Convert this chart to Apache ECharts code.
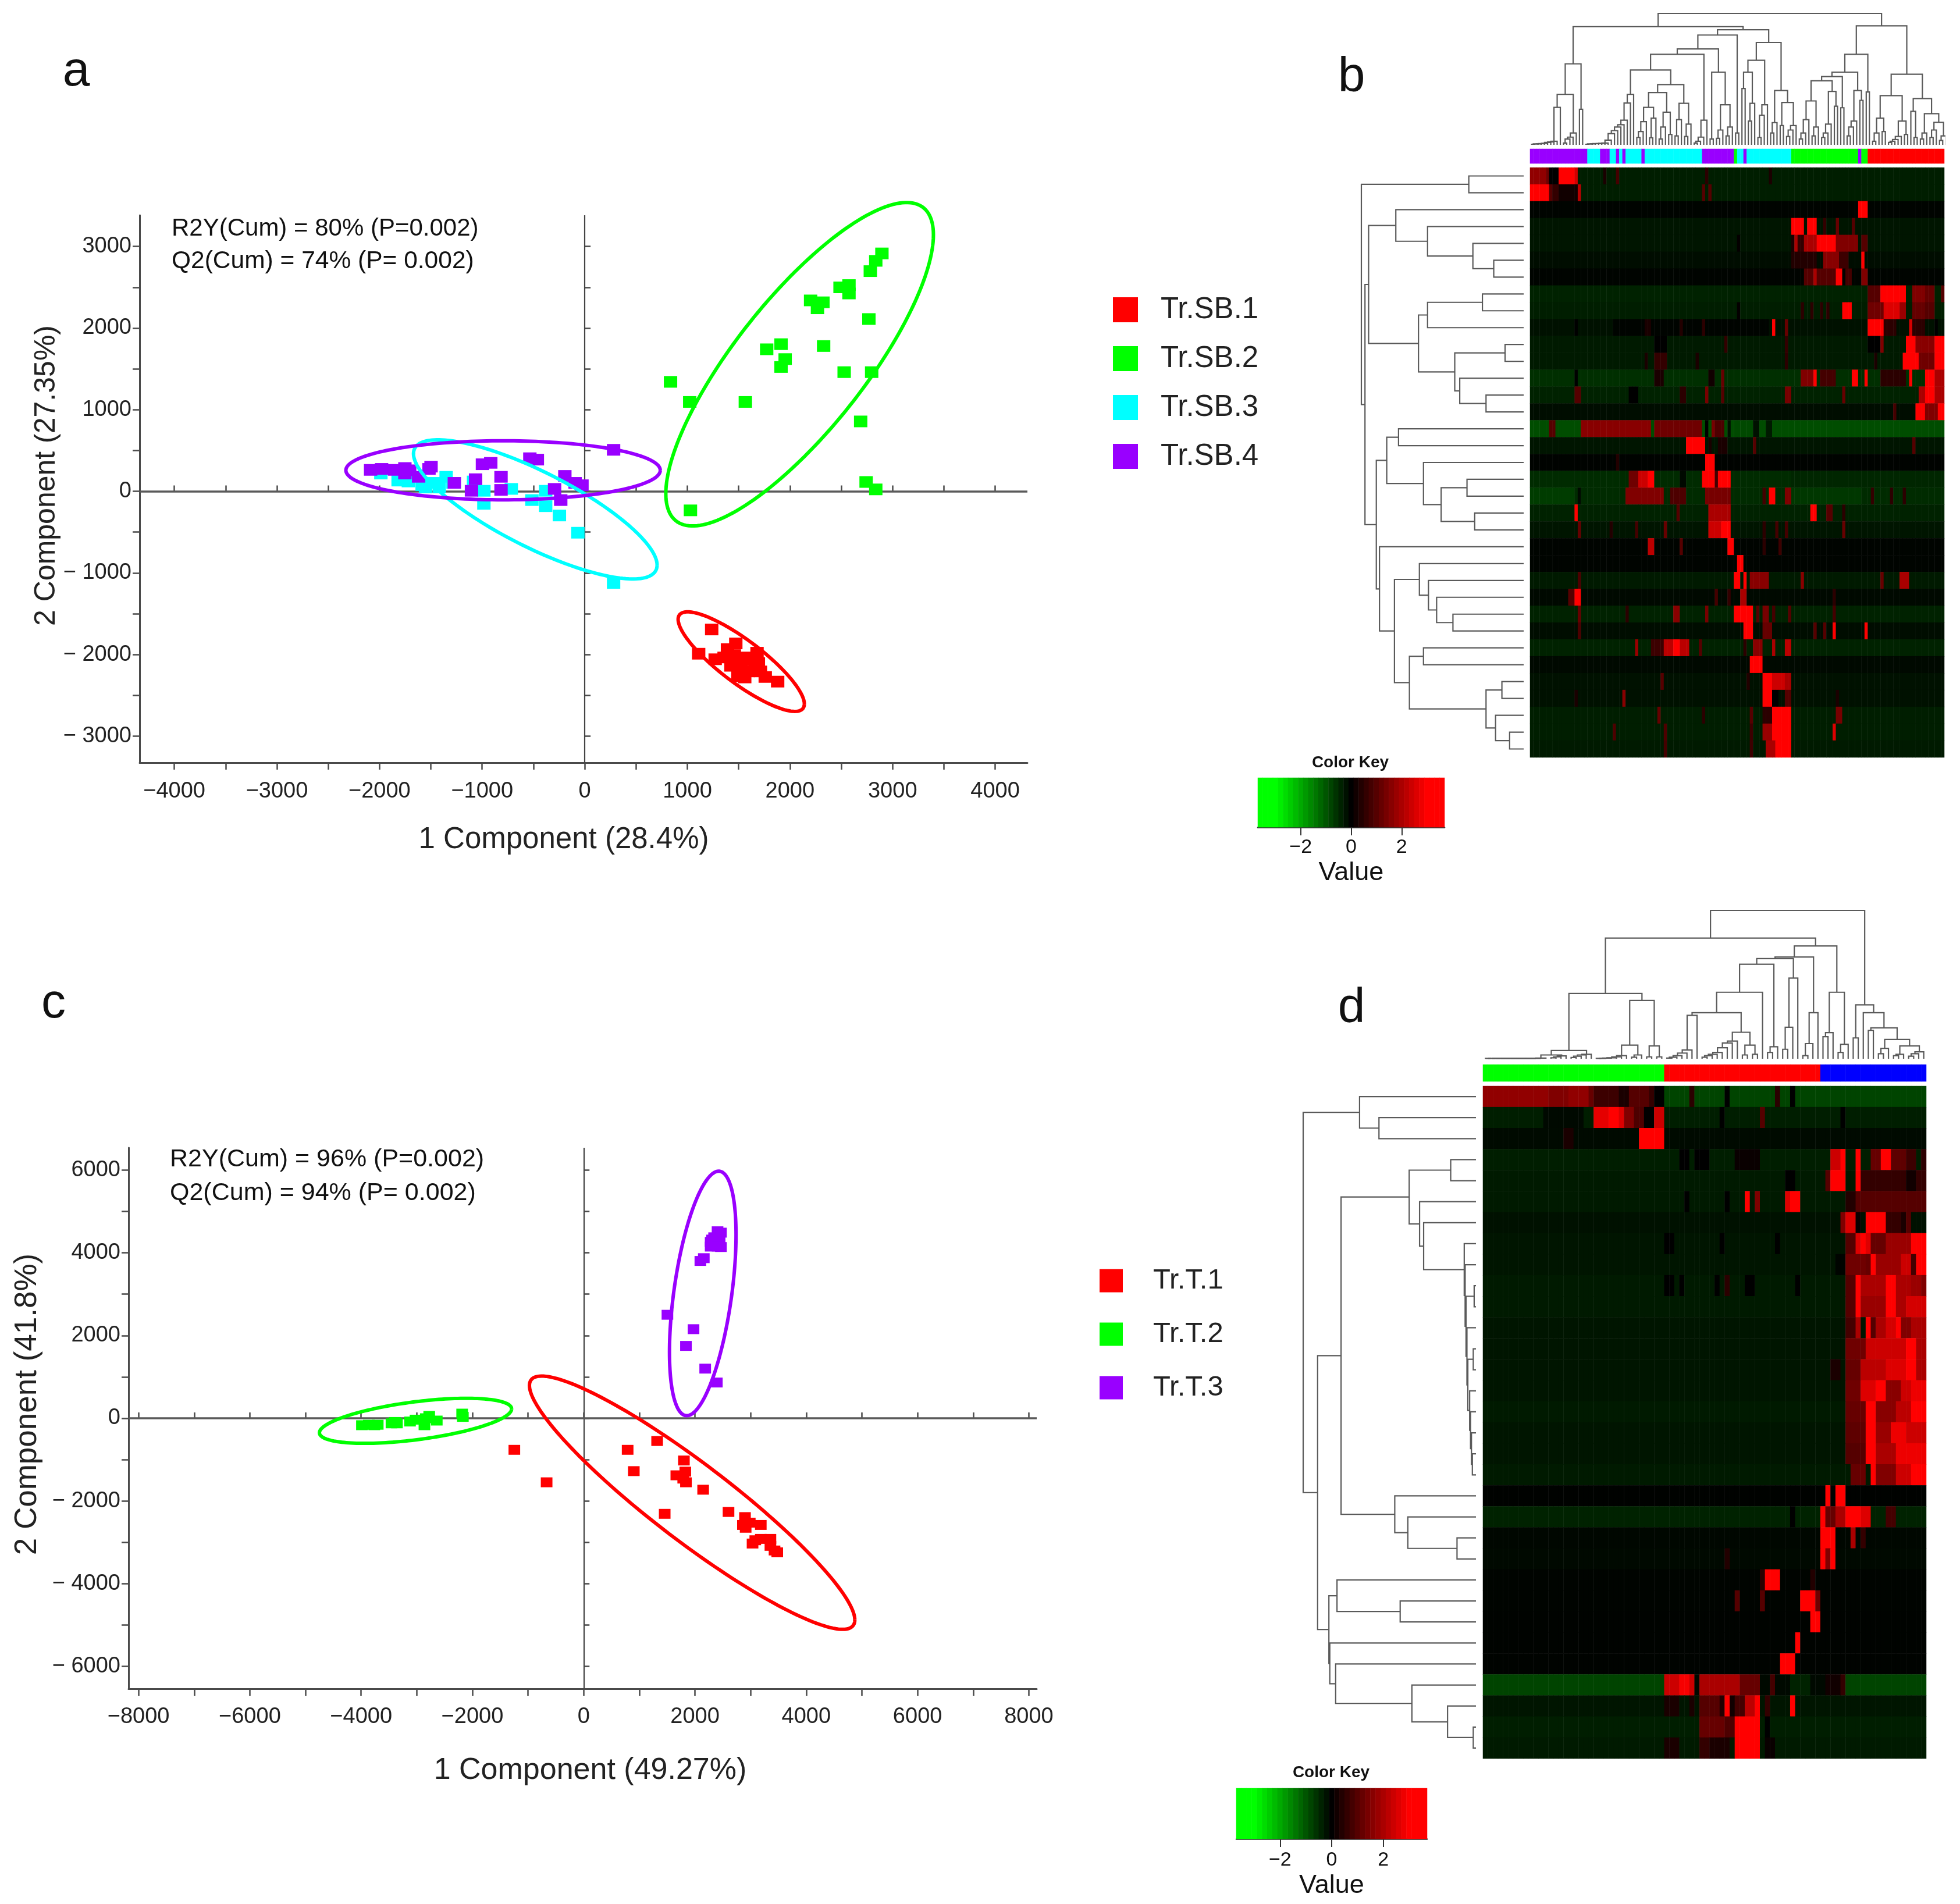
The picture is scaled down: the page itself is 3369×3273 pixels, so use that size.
<!DOCTYPE html>
<html><head><meta charset="utf-8">
<style>html,body{margin:0;padding:0;background:#fff}#c{width:3369px;height:3273px}</style>
<script src="https://cdn.jsdelivr.net/npm/echarts@6/dist/echarts.min.js"></script>
</head><body><div id="c"></div>
<script>
/* ---------- scatter values ---------- */
const sb1 = [[1237,-1694],[1110,-1991],[1271,-2059],[1472,-1865],[1391,-1934],[1358,-2037],[1458,-2008],[1425,-2139],[1559,-2037],[1679,-1979],[1625,-2065],[1525,-2151],[1659,-2151],[1492,-2265],[1559,-2282],[1712,-2208],[1759,-2276],[1880,-2333],[1592,-2208],[1692,-2105],[1445,-2094]];
const sb2 = [[2896,2915],[2836,2824],[2783,2698],[2575,2527],[2488,2499],[2575,2424],[2201,2339],[2321,2316],[2268,2242],[2769,2111],[1913,1803],[1773,1740],[2328,1780],[1953,1620],[1913,1523],[2528,1460],[2796,1460],[836,1341],[1023,1095],[1565,1095],[2689,856],[2742,114],[2836,23],[1030,-234]];
const sb3 = [[-1987,217],[-1819,131],[-1719,120],[-1585,74],[-1472,103],[-1351,177],[-1418,46],[-1084,120],[-983,6],[-983,-154],[-716,29],[-515,-108],[-381,6],[-381,-183],[-247,-297],[-67,-508],[281,-1124],[-1552,46],[-1753,160],[-1284,103]];
const sb4 = [[-2087,262],[-1980,274],[-1853,262],[-1753,285],[-1706,257],[-1619,177],[-1498,302],[-1271,103],[-1064,148],[-1104,6],[-997,331],[-916,348],[-816,177],[-816,17],[-535,405],[-462,388],[-294,29],[-234,-108],[-194,188],[-94,103],[-27,74],[281,508],[-1753,217],[-1518,274]];
const t1 = [[-1246,-763],[-666,-1548],[790,-763],[1320,-550],[901,-1278],[1801,-1021],[1826,-1290],[1665,-1379],[1789,-1458],[1838,-1548],[2147,-1727],[1456,-2310],[2603,-2265],[2899,-2389],[2985,-2523],[2862,-2579],[2911,-2647],[3183,-2579],[3035,-3028],[3183,-2916],[3356,-2916],[3356,-3084],[3430,-3196],[3479,-3241],[3084,-2949]];
const t2 = [[-3985,-168],[-3861,-157],[-3701,-157],[-3454,-123],[-3356,-123],[-3121,-79],[-3022,-34],[-2862,-168],[-2837,0],[-2776,56],[-2640,-56],[-2184,112],[-2171,34],[-3763,-168],[-3393,-90]];
const t3 = [[1505,2501],[1974,2153],[1838,1749],[2184,1200],[2393,864],[2097,3802],[2159,3869],[2467,4138],[2282,4262],[2282,4149],[2406,4519],[2344,4374],[2443,4318],[2381,4205],[2467,4486],[2307,4318],[2406,4149]];
/* confidence ellipses: centre x, centre y, half-extent x, half-extent y, correlation */
const ellSB = {'#ff0000':[1525,-2088,615,610,-0.85],'#00ff00':[2094,1557,1304,1982,0.8],'#00ffff':[-482,-222,1187,853,-0.8],'#9900ff':[-796,257,1532,362,0]};
const ellT = {'#ff0000':[1949,-2041,2924,3061,-0.925],'#00ff00':[-3022,-62,1727,544,0.53],'#9900ff':[2140,3017,598,2955,0.48]};
/* ---------- axis ticks ---------- */
const aXTicks = [-4000,-3500,-3000,-2500,-2000,-1500,-1000,-500,0,500,1000,1500,2000,2500,3000,3500,4000];
const aXLabels = [-4000,-3000,-2000,-1000,0,1000,2000,3000,4000];
const aYTicks = [-3000,-2500,-2000,-1500,-1000,-500,0,500,1000,1500,2000,2500,3000];
const aYLabels = [-3000,-2000,-1000,0,1000,2000,3000];
const cXTicks = [-8000,-7000,-6000,-5000,-4000,-3000,-2000,-1000,0,1000,2000,3000,4000,5000,6000,7000,8000];
const cXLabels = [-8000,-6000,-4000,-2000,0,2000,4000,6000,8000];
const cYTicks = [-6000,-5000,-4000,-3000,-2000,-1000,0,1000,2000,3000,4000,5000,6000];
const cYLabels = [-6000,-4000,-2000,0,2000,4000,6000];
const keyValues = [-3.6,-3.4,-3.2,-3,-2.8,-2.6,-2.4,-2.2,-2,-1.8,-1.6,-1.4,-1.2,-1,-0.8,-0.6,-0.4,-0.2,0,0.2,0.4,0.6,0.8,1,1.2,1.4,1.6,1.8,2,2.2,2.4,2.6,2.8,3,3.2,3.4,3.6];
const keyTicks = [-2,0,2];
/* ---------- heatmap b: column group strip, row baselines and runs [from,to,value] ---------- */
const nColsB = 130;
const stripB = [[18,'#9900ff'],[4,'#00ffff'],[3,'#9900ff'],[2,'#00ffff'],[1,'#9900ff'],[1,'#00ffff'],[1,'#9900ff'],[5,'#00ffff'],[1,'#9900ff'],[18,'#00ffff'],[10,'#9900ff'],[1,'#00ff00'],[2,'#00ffff'],[1,'#9900ff'],[14,'#00ffff'],[21,'#00ff00'],[1,'#9900ff'],[2,'#00ff00'],[24,'#ff0000']];
const baseB = [-.35,-.35,-.05,-.25,-.25,-.15,-.05,-.4,-.35,-.2,-.3,-.3,-.55,-.4,-.15,-.9,-.25,-.03,-.5,-.5,-.4,-.25,-.05,-.05,-.3,-.1,-.4,-.15,-.4,-.1,-.2,-.2,-.35,-.35,-.3];
const runsB = [
 [[0,5,1.7],[5,6,1.3],[6,9,0],[9,14,3.2],[14,15,2.5],[23,24,.3],[27,28,.8],[55,56,.5],[75,76,.3]],
 [[0,6,3.3],[6,7,1],[7,9,.6],[9,15,.2],[15,16,2.2],[54,55,1],[56,57,1]],
 [[103,106,3.4]],
 [[82,86,3.3],[87,90,3.2],[92,93,.6],[96,97,1.2],[101,102,1]],
 [[65,66,.05],[82,83,.3],[83,84,2],[84,86,.6],[86,90,2],[90,96,3.2],[96,103,1.5],[104,106,1]],
 [[82,90,.4],[92,97,1.6],[97,100,.7],[104,105,3]],
 [[86,96,1],[89,90,2],[96,98,3],[99,101,.8],[104,106,1.5]],
 [[106,110,1],[110,118,3.2],[120,124,1.5],[124,127,1.2],[129,130,1]],
 [[65,66,.05],[85,86,.5],[88,89,.5],[91,92,.5],[93,94,.5],[98,101,3.2],[106,111,1.3],[111,116,2.6],[116,118,1.8],[120,124,1.2],[124,127,1]],
 [[14,15,0],[26,75,-.05],[36,38,.3],[47,48,.4],[54,55,.5],[76,77,3],[80,81,1.2],[106,111,3],[111,115,.5],[119,120,2.5],[120,124,.5],[127,128,0]],
 [[39,43,0],[61,62,.6],[80,81,.6],[106,110,0],[110,111,1.5],[118,121,3],[121,127,1.6],[127,130,3]],
 [[36,37,.3],[39,43,.6],[52,53,.3],[80,81,.5],[108,109,.3],[117,122,3],[122,127,1.3],[127,130,3]],
 [[14,15,0],[39,42,.3],[56,58,.2],[60,61,1.2],[85,90,1.5],[89,90,3],[91,96,.8],[101,103,3],[105,106,3],[110,118,.5],[119,120,3],[124,127,3],[127,130,2]],
 [[14,16,1],[31,34,0],[47,49,.5],[55,56,1.4],[60,61,1],[80,82,1.4],[98,99,1.2],[122,124,2],[124,127,3],[127,130,2]],
 [[114,115,.8],[121,124,3],[124,128,1.5],[128,130,3]],
 [[6,8,1],[16,38,1.6],[39,54,1.3],[55,56,0],[57,58,1.4],[58,61,.9],[62,63,-.2],[64,70,-.85],[70,72,-.2],[74,76,-.3],[82,130,-.9]],
 [[49,55,3.3],[56,57,.3],[59,62,.3],[70,71,1],[120,121,1]],
 [[27,28,.4],[55,58,3.2]],
 [[31,34,1.3],[34,37,2.4],[37,39,3],[47,49,-.1],[54,58,3],[58,59,.8],[59,63,3],[82,130,-.45]],
 [[0,14,-.7],[15,16,-.1],[30,42,1.5],[44,49,.9],[55,63,1.4],[73,74,.8],[75,77,3],[80,82,1.5],[82,104,-.65],[107,108,.6],[113,114,.5],[117,118,.5]],
 [[14,15,3],[46,47,1],[56,63,2],[88,90,3],[93,95,1],[98,99,.5]],
 [[15,16,1.2],[25,26,.4],[33,34,.8],[42,43,1.2],[56,62,2.4],[60,63,3],[73,74,.5],[77,78,.8],[80,81,.8],[98,99,1.2]],
 [[37,39,2.2],[47,48,1],[62,64,3],[73,74,.5],[78,79,.7]],
 [[65,67,3.2]],
 [[15,16,.9],[64,66,3],[67,68,3],[69,75,1.6],[85,86,1.6],[110,111,1.2],[116,119,2]],
 [[12,14,1],[14,16,3],[58,59,.8],[62,63,.6],[66,68,2],[95,96,.5]],
 [[15,16,1.2],[30,31,.5],[45,47,1.6],[55,56,1.4],[64,70,3],[71,72,1],[73,75,1.4],[76,77,.8],[81,82,1],[95,96,.8]],
 [[15,16,.9],[67,70,3],[73,76,1.2],[89,90,1],[92,93,1],[95,96,3],[105,106,3]],
 [[33,34,1.8],[38,42,.7],[42,50,2.2],[45,47,3],[53,54,1],[67,68,.5],[70,73,1.6],[76,77,2],[80,82,2.2]],
 [[69,73,3.2]],
 [[41,42,1],[68,69,.4],[73,76,3],[76,80,2.4],[80,82,2]],
 [[14,15,.3],[29,30,1.6],[73,76,3],[76,78,0],[80,82,1],[96,97,.3]],
 [[40,41,1.2],[54,55,.5],[69,70,1],[73,76,.5],[76,82,3],[96,98,1.4]],
 [[26,27,.9],[42,43,.9],[69,70,.7],[73,76,1.8],[76,82,3.2],[95,96,2.6]],
 [[42,43,.8],[69,70,.7],[74,77,2],[77,82,3.1]]
];
/* ---------- heatmap d ---------- */
const nColsD = 88;
const stripD = [[36,'#00ff00'],[31,'#ff0000'],[21,'#0000ff']];
const baseD = [-.8,-.35,-.12,-.35,-.3,-.3,-.2,-.25,-.25,-.3,-.3,-.25,-.25,-.25,-.25,-.3,-.25,-.25,-.3,-.02,-.4,-.08,-.1,-.05,-.05,-.03,-.03,-.03,-.8,-.25,-.35,-.3];
const runsD = [
 [[0,13,1.7],[13,17,1.5],[17,21,1.7],[21,22,1.2],[22,27,.7],[27,29,.3],[29,33,1],[33,34,.6],[34,36,0],[41,42,.5],[48,49,0],[58,59,.5],[61,62,0]],
 [[12,20,-.1],[22,25,2.7],[25,27,3.2],[27,28,2.6],[28,30,1.5],[30,32,.9],[32,34,0],[34,36,2.4],[47,48,0],[55,56,1],[71,72,0]],
 [[16,18,.3],[31,36,3.5]],
 [[39,41,0],[42,45,0],[50,55,.1],[69,71,2.4],[71,72,3.2],[74,75,3.2],[77,79,1.2],[79,81,3.2],[81,84,1.1],[84,86,.7],[87,88,.5]],
 [[60,62,0],[68,69,1],[69,72,3.2],[74,75,3.2],[75,84,.6],[84,86,.2],[86,88,.6]],
 [[40,41,0],[48,49,0],[52,53,3.2],[54,55,1.5],[60,61,2.6],[61,63,3],[72,74,.4],[74,88,1]],
 [[71,72,1.5],[72,74,2.6],[74,75,.1],[76,80,3.3],[80,83,.6],[83,84,.3],[84,85,1],[85,88,-.2]],
 [[36,38,0],[47,48,0],[58,59,0],[72,74,1],[74,77,2.6],[75,76,3.1],[77,80,1.2],[80,85,1.8],[85,88,3.3]],
 [[70,72,-.05],[72,76,1.3],[76,77,1.2],[77,78,3.2],[78,83,1.8],[83,85,2.4],[85,86,.8],[86,88,3.2]],
 [[36,38,0],[39,40,0],[46,47,0],[48,49,.5],[52,54,0],[62,63,0],[72,74,1],[74,75,3],[75,80,2],[80,82,3],[82,85,2],[85,87,1.8],[87,88,1.5]],
 [[72,74,1],[74,75,3],[75,80,1.8],[80,82,3],[82,84,2],[84,88,2.5]],
 [[72,74,.8],[74,75,2],[76,77,3],[77,78,1],[78,80,2],[80,82,2.5],[82,83,3.2],[83,85,1.5],[85,88,2]],
 [[72,76,1.3],[76,84,2.4],[84,86,3],[86,88,2]],
 [[69,71,.3],[72,75,1.2],[75,80,2.2],[80,84,2.6],[84,86,3],[86,88,2]],
 [[72,75,1.3],[75,78,2.6],[78,80,3],[80,83,1.6],[83,85,2.4],[85,88,2.8]],
 [[72,76,1.2],[76,78,3],[78,82,1.6],[82,85,2.2],[85,88,3.2]],
 [[72,76,1.1],[76,78,3],[78,81,1.8],[81,84,2.8],[84,88,2.4]],
 [[72,76,1],[76,78,3.1],[78,82,2],[82,85,2.8],[85,88,2.8]],
 [[73,76,1.2],[77,78,3.2],[78,82,1.5],[82,85,2.4],[85,88,3]],
 [[68,69,3],[70,72,3]],
 [[61,62,0],[67,68,3],[68,70,1.2],[70,72,2],[72,75,3.3],[75,77,2.6],[80,82,.8]],
 [[67,70,3.3],[73,74,2],[75,76,.6]],
 [[48,49,.4],[67,68,3],[68,69,1.5],[69,70,3]],
 [[55,56,.5],[56,59,3.3],[65,66,.4]],
 [[50,51,1],[55,56,1],[63,66,3.3],[66,67,1.3]],
 [[65,67,3.3]],
 [[62,63,3.3]],
 [[59,62,3.3]],
 [[36,42,2.4],[39,41,2.9],[42,43,-.1],[43,51,2],[51,55,1.2],[55,57,-.1],[57,58,.8],[58,61,-.1],[61,65,-.4],[65,68,-.1],[68,71,.2],[71,72,.6]],
 [[36,39,.3],[41,42,.3],[43,47,1],[47,48,.4],[48,49,3.3],[49,50,.2],[50,52,.8],[52,54,2.2],[54,55,3.2],[56,57,.6],[61,62,3.2]],
 [[43,48,1.2],[48,50,.9],[50,55,3.3],[56,57,0]],
 [[36,39,.3],[43,45,.6],[45,49,.3],[50,55,3.3],[56,58,.1]]
];
/* ---------- dendrograms: 0 = leaf, [h,a,b] = merge, [[h1,h2,..]] = leaves joining one by one ---------- */
const topTreeB = [443,
 [398,
  [273,[170,[126,[[2,3,3,4,5,8,10,12]],0],[[6,20,26,40]]],[120,0,0]],
  [388,
   [370,
    [323,
     [305,
      [252,[[2,3,3,4,4,5,6,16,38,48,60,68,83,141,170]],
       [203,[176,[126,[[25,45,78]],[[24,90]]],[110,[[20,60]],[[35]]]],[140,[[30,85]],[[28,70]]]]],
      [83,[[6,12,26]],0]],
     [245,[[20]],[135,[[22,50]],[[30,60]]]]],
    [[40]]],
   [345,
    [285,[245,[[190]],[[80,140]]],[[25,100,135]]],
    [183,[[40,75]],[143,[[65]],[[28,50,65]]]]]]],
 [401,
  [305,
   [245,
    [230,
     [216,[148,[[20,40,85]],[[30,60]]],[180,[[25,40,70]],[[130]]]],
     [[125]]],
    [183,[[30,60,80]],[[150]]]],
   [178,0,0]],
  [238,
   [166,[90,[[12,40]],[[45]]],[80,[[8,12,18,28]],[[35]]]],
   [156,[113,0,[[25]]],[105,[[20,40]],[76,[[25,50]],[[15,30]]]]]]]];
const leftTreeB = [358,
 [121,0,0],
 [350,
  [342,
   [282,0,[212,0,[112,0,[66,0,0]]]],
   [232,[212,[91,0,0],0],[152,[41,0,0],[141,0,[83,0,0]]]]],
  [325,
   [302,[276,0,0],[221,0,[182,[125,0,0],[108,0,0]]]],
   [318,0,[285,
     [230,0,[210,0,[192,0,[156,0,0]]]],
     [252,[221,0,0],[83,[48,0,0],[62,0,[31,0,0]]]]]]]]];
const topTreeD = [471,
 [383,
  [207,
   [26,[12,[[1,1,1,1,1,1,1,1,1,1,1,2]],[[3,6,9]]],[[4,8,12,14]]],
   [185,[43,[[1,1,2,3,6,10]],[[5,12]]],[41,[[6]],[[6]]]]],
  [358,
   [323,
    [318,
     [300,
      [211,[146,[138,[[2,5,10,18,28]],0],[84,[[5,10,14,20,35,50,56]],[43,[[12]],[[14]]]]],0],
      [[20,38]]],
     [256,[100,[[30]],0],0]],
    [146,[[10,48]],0]],
   [211,[83,[70,0,0],0],[[20,46]]]]],
 [171,
  [66,0,0],
  [146,0,[98,[90,0,0],[61,[33,[[16]],0],[41,[[10,14]],[[8,16,22]]]]]]]];
const leftTreeD = [383,
 [258,0,[215,0,0]],
 [351,
  [299,
   [148,
    [56,0,0],
    [125,0,[116,0,[26,0,[24,0,[22,[4,0,0],[20,0,[18,[6,0,0],[14,0,[12,0,[10,0,[8,0,0]]]]]]]]]]]],
   [180,0,[151,0,[42,0,0]]]],
  [326,
   [308,0,[168,0,0]],
   [324,0,[311,0,[142,0,[63,0,[6,0,0]]]]]]]];

/* ---------- helpers ---------- */
const FONT = '"Liberation Sans"';
function expand(base, runs, nCols){
  const out = [];
  base.forEach((b,r)=>{
    const row = new Array(nCols).fill(b);
    runs[r].forEach(([a,e,v])=>{ for(let i=a;i<e;i++) row[i]=v; });
    row.forEach((v,c)=>out.push([c,r,v]));
  });
  return out;
}
function stripCells(strip){
  const out=[]; let c=0;
  strip.forEach(([n,col])=>{ for(let i=0;i<n;i++) out.push({value:[c++,0,1],itemStyle:{color:col}}); });
  return out;
}
function walk(node, cur, segs){
  if(node===0){ const x=cur.i+.5; cur.i++; return [x,0]; }
  if(Array.isArray(node[0])){
    let p=walk(0,cur,segs);
    node[0].forEach(h=>{ const q=walk(0,cur,segs); segs.push([[p[0],p[1]],[p[0],h],[q[0],h],[q[0],q[1]]]); p=[(p[0]+q[0])/2,h]; });
    return p;
  }
  const a=walk(node[1],cur,segs), b=walk(node[2],cur,segs), h=node[0];
  segs.push([[a[0],a[1]],[a[0],h],[b[0],h],[b[0],b[1]]]);
  return [(a[0]+b[0])/2,h];
}
function treeSeries(tree, ax, swap){
  const segs=[]; walk(tree,{i:0},segs);
  return {type:'lines',coordinateSystem:'cartesian2d',xAxisIndex:ax,yAxisIndex:ax,polyline:true,silent:true,animation:false,
    lineStyle:{color:'#5a5a5a',width:2.2,opacity:1},
    data:segs.map(s=>({coords:swap?s.map(p=>[p[1],p[0]]):s}))};
}
const range = n => Array.from({length:n},(_,i)=>String(i));

/* ---------- layout ---------- */
const grids=[], xAxes=[], yAxes=[], series=[], extraX=[], extraY=[];
function addGrid(g,x,y){ grids.push(g); const i=grids.length-1; xAxes.push(Object.assign({gridIndex:i},x)); yAxes.push(Object.assign({gridIndex:i},y)); return i; }
function numFmt(spaced){ return v => v<0 ? '\u2212'+(spaced?' ':'')+Math.abs(v) : String(v); }
function sciAxis(min,max,ticks,labels,name,fs,gap,pad,spaced,margin){
  return {type:'value',min,max,splitLine:{show:false},
    axisLine:{show:true,onZero:false,lineStyle:{color:'#4a4a4a',width:3}},
    axisTick:{show:true,length:12,customValues:ticks,lineStyle:{color:'#4a4a4a',width:2.5}},
    axisLabel:{customValues:labels,fontFamily:FONT,fontSize:38,color:'#222',margin,formatter:numFmt(spaced),hideOverlap:false},
    name,nameLocation:'middle',nameGap:gap,nameTextStyle:{fontFamily:FONT,fontSize:fs,color:'#222',padding:pad}};
}
function innerTicks(i,axis,position){
  return {gridIndex:i,type:'value',min:axis.min,max:axis.max,position,splitLine:{show:false},axisLine:{show:false},axisLabel:{show:false},
    axisTick:{show:true,inside:true,length:10,customValues:axis.axisTick.customValues,lineStyle:{color:'#4a4a4a',width:2.5}}};
}
function addScatterPanel(g,x,y,sets,ells,lw,size){
  const i=addGrid(g,x,y);
  extraX.push(innerTicks(i,x,'bottom')); extraY.push(innerTicks(i,y,'left'));
  sets.forEach(([name,color,data],k)=>{
    const s={type:'scatter',name,xAxisIndex:i,yAxisIndex:i,data,symbol:'rect',symbolSize:size,itemStyle:{color,opacity:1},animation:false,z:3};
    if(k===0) s.markLine={silent:true,symbol:'none',animation:false,label:{show:false},z:2,
      data:[{xAxis:0,lineStyle:{color:'#444',width:2.2,type:'solid'}},{yAxis:0,lineStyle:{color:'#5a5a5a',width:3.5,type:'solid'}}]};
    series.push(s);
  });
  Object.entries(ells).forEach(([color,e])=>{
    series.push({type:'custom',name:'ellipse '+color,xAxisIndex:i,yAxisIndex:i,clip:false,silent:true,animation:false,z:4,
      encode:{x:0,y:1},data:[e],
      renderItem:(p,api)=>{
        const [cx,cy,rx,ry,rho]=[0,1,2,3,4].map(d=>api.value(d));
        const phi=Math.acos(rho), pts=[];
        for(let k=0;k<=180;k++){ const t=k/180*2*Math.PI; pts.push(api.coord([cx+rx*Math.cos(t),cy+ry*Math.cos(t-phi)])); }
        return {type:'polyline',shape:{points:pts},style:{stroke:color,fill:null,lineWidth:lw}};
      }});
  });
}
addScatterPanel({left:240,top:370,width:1526,height:941},
  sciAxis(-4338,4314,aXTicks,aXLabels,'1 Component (28.4%)',51,107,[0,68,0,0],false,31),
  sciAxis(-3326,3383,aYTicks,aYLabels,'2 Component (27.35%)',50,135,[0,0,0,46],true,14),
  [['Tr.SB.1','#ff0000',sb1],['Tr.SB.2','#00ff00',sb2],['Tr.SB.3','#00ffff',sb3],['Tr.SB.4','#9900ff',sb4]],ellSB,6,[23,20]);
addScatterPanel({left:221,top:1973,width:1561,height:930},
  sciAxis(-8179,8142,cXTicks,cXLabels,'1 Component (49.27%)',52,115,[0,0,0,26],false,30),
  sciAxis(-6538,6538,cYTicks,cYLabels,'2 Component (41.8%)',53,147,[0,0,0,48],true,14),
  [['Tr.T.1','#ff0000',t1],['Tr.T.2','#00ff00',t2],['Tr.T.3','#9900ff',t3]],ellT,6,[20,17]);

function addHeatPanel(h,nCols,base,runs,strip,stripBox,topTree,topBox,topMax,leftTree,leftBox,leftMax,keyBox,valueGap,keyMargin){
  const nRows=base.length;
  let i=addGrid(h,{type:'category',data:range(nCols),show:false},{type:'category',data:range(nRows),inverse:true,show:false});
  heatIdx.push(series.length);
  series.push({type:'heatmap',xAxisIndex:i,yAxisIndex:i,data:expand(base,runs,nCols),progressive:0,animation:false,silent:true});
  i=addGrid(stripBox,{type:'category',data:range(nCols),show:false},{type:'category',data:['0'],show:false});
  series.push({type:'heatmap',xAxisIndex:i,yAxisIndex:i,data:stripCells(strip),progressive:0,animation:false,silent:true});
  i=addGrid(topBox,{type:'value',min:0,max:nCols,show:false},{type:'value',min:0,max:topMax,show:false});
  series.push(treeSeries(topTree,i,false));
  i=addGrid(leftBox,{type:'value',min:0,max:leftMax,inverse:true,show:false},{type:'value',min:0,max:nRows,inverse:true,show:false});
  series.push(treeSeries(leftTree,i,true));
  i=addGrid(keyBox,
    {type:'category',data:keyValues.map(String),
     axisLine:{show:true,lineStyle:{color:'#333',width:2.5}},
     axisTick:{show:true,length:14,alignWithLabel:true,interval:(n,v)=>keyTicks.includes(+v),lineStyle:{color:'#333',width:2}},
     axisLabel:{interval:(n,v)=>keyTicks.includes(+v),fontFamily:FONT,fontSize:34,color:'#111',margin:keyMargin,formatter:v=>String(v).replace('-','\u2212')},
     name:'Value',nameLocation:'middle',nameGap:valueGap,nameTextStyle:{fontFamily:FONT,fontSize:45,color:'#111'}},
    {type:'category',data:['0'],show:false});
  heatIdx.push(series.length);
  series.push({type:'heatmap',xAxisIndex:i,yAxisIndex:i,data:keyValues.map((v,k)=>[k,0,v]),progressive:0,animation:false,silent:true});
}
const heatIdx=[];
addHeatPanel({left:2630,top:288,width:712,height:1014},nColsB,baseB,runsB,stripB,{left:2630,top:256,width:712,height:25},
  topTreeB,{left:2630,top:23,width:712,height:226},443,leftTreeB,{left:2340,top:288,width:279,height:1014},358,{left:2162,top:1337,width:321,height:85},56,18);
addHeatPanel({left:2549,top:1867,width:762,height:1156},nColsD,baseD,runsD,stripD,{left:2549,top:1830,width:762,height:29},
  topTreeD,{left:2549,top:1565,width:762,height:255},471,leftTreeD,{left:2240,top:1867,width:297,height:1156},383,{left:2125,top:3074,width:328,height:87},58,20);

const label=(t,x,y,size,extra)=>({type:'text',x,y,style:Object.assign({text:t,fontFamily:FONT,fontSize:size,fill:'#111',textAlign:'center',textVerticalAlign:'middle'},extra||{})});
const graphicEls=[
  label('a',131,124,84),label('b',2323,134,84),label('c',92,1726,84),label('d',2323,1734,84),
  label('R2Y(Cum) = 80% (P=0.002)',295,393,42,{textAlign:'left'}),
  label('Q2(Cum) = 74% (P= 0.002)',295,449,42.5,{textAlign:'left'}),
  label('R2Y(Cum) = 96% (P=0.002)',292,1993,43,{textAlign:'left'}),
  label('Q2(Cum) = 94% (P= 0.002)',292,2051,43,{textAlign:'left'}),
  label('Color Key',2321,1311,28,{fontWeight:'bold'}),
  label('Color Key',2288,3047,28,{fontWeight:'bold'})
];
const legendBase={orient:'vertical',icon:'rect',selectedMode:false};
const chart=echarts.init(document.getElementById('c'),null,{renderer:'canvas',width:3369,height:3273});
chart.setOption({
  backgroundColor:'#fff',animation:false,
  grid:grids,xAxis:xAxes.concat(extraX),yAxis:yAxes.concat(extraY),series,
  visualMap:[{show:false,type:'continuous',seriesIndex:heatIdx,dimension:2,min:-3.75,max:3.75,
    inRange:{color:['#00ff00','#00ff00','#00bf00','#008000','#004000','#000000','#400000','#800000','#bf0000','#ff0000','#ff0000']}}],
  legend:[
    Object.assign({},legendBase,{left:1908,top:502,itemWidth:43,itemHeight:43,itemGap:33,textStyle:{fontFamily:FONT,fontSize:51,color:'#222',padding:[0,0,0,34]},data:['Tr.SB.1','Tr.SB.2','Tr.SB.3','Tr.SB.4']}),
    Object.assign({},legendBase,{left:1885,top:2172,itemWidth:40,itemHeight:40,itemGap:43,textStyle:{fontFamily:FONT,fontSize:49,color:'#222',padding:[0,0,0,47]},data:['Tr.T.1','Tr.T.2','Tr.T.3']})
  ],
  graphic:{elements:graphicEls}
});
</script></body></html>
